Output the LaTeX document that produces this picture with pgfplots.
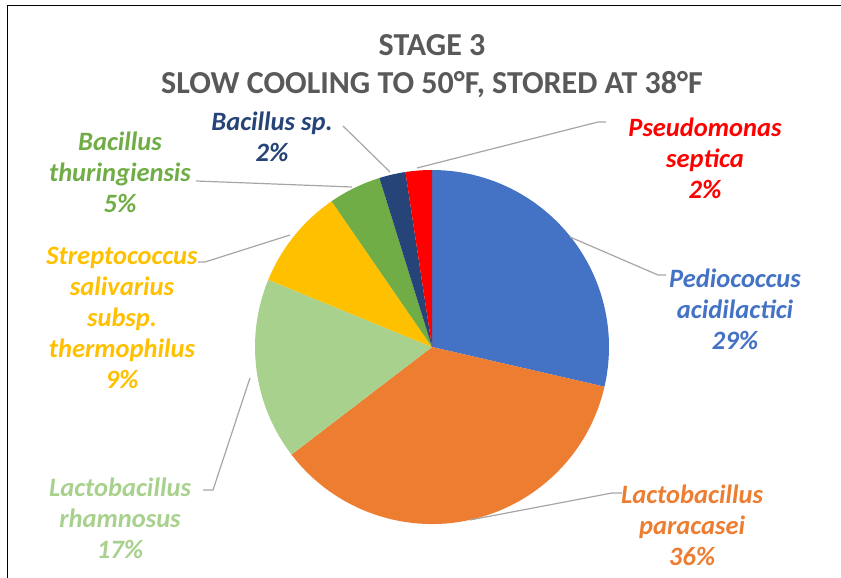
\documentclass[border=0pt]{standalone}
\usepackage{fontspec}
\setmainfont{Carlito}
\usepackage{pgfplots}
\pgfplotsset{compat=1.18}
\definecolor{cblue}{HTML}{4472C4}
\definecolor{corange}{HTML}{ED7D31}
\definecolor{clgreen}{HTML}{A9D18E}
\definecolor{cyellow}{HTML}{FFC000}
\definecolor{cgreen}{HTML}{70AD47}
\definecolor{cdblue}{HTML}{264478}
\definecolor{cred}{HTML}{FF0000}
\definecolor{ctitle}{HTML}{595959}
\definecolor{cleader}{HTML}{A6A6A6}
% values (percent), clockwise from 12 o'clock
\def\va{28.6}\def\vb{36.0}\def\vc{16.6}\def\vd{9.2}\def\ve{4.8}\def\vf{2.4}\def\vg{2.4}
\begin{document}
\begin{tikzpicture}
\useasboundingbox (0,0) rectangle (841pt,578pt);
\begin{axis}[at={(0,0)},anchor=south west,width=841pt,height=578pt,scale only axis,
  xmin=0,xmax=841,ymin=0,ymax=578,hide axis,clip=false]
\addplot[draw=none] coordinates {(432,231)};
\def\R{177pt}
\fill[cblue] (axis cs:432,231) -- ++(90:\R) arc[start angle=90,end angle={90-3.6*\va},radius=\R] -- cycle;
\fill[corange] (axis cs:432,231) -- ++({90-3.6*\va}:\R) arc[start angle={90-3.6*\va},end angle={90-3.6*(\va+\vb)},radius=\R] -- cycle;
\fill[clgreen] (axis cs:432,231) -- ++({90-3.6*(\va+\vb)}:\R) arc[start angle={90-3.6*(\va+\vb)},end angle={90-3.6*(\va+\vb+\vc)},radius=\R] -- cycle;
\fill[cyellow] (axis cs:432,231) -- ++({90-3.6*(\va+\vb+\vc)}:\R) arc[start angle={90-3.6*(\va+\vb+\vc)},end angle={90-3.6*(\va+\vb+\vc+\vd)},radius=\R] -- cycle;
\fill[cgreen] (axis cs:432,231) -- ++({90-3.6*(\va+\vb+\vc+\vd)}:\R) arc[start angle={90-3.6*(\va+\vb+\vc+\vd)},end angle={90-3.6*(\va+\vb+\vc+\vd+\ve)},radius=\R] -- cycle;
\fill[cdblue] (axis cs:432,231) -- ++({90-3.6*(\va+\vb+\vc+\vd+\ve)}:\R) arc[start angle={90-3.6*(\va+\vb+\vc+\vd+\ve)},end angle={90-3.6*(\va+\vb+\vc+\vd+\ve+\vf)},radius=\R] -- cycle;
\fill[cred] (axis cs:432,231) -- ++({90-3.6*(\va+\vb+\vc+\vd+\ve+\vf)}:\R) arc[start angle={90-3.6*(\va+\vb+\vc+\vd+\ve+\vf)},end angle={-270},radius=\R] -- cycle;
% leader lines
\draw[cleader,line width=1.2pt] (axis cs:417,410) -- (axis cs:598,456) -- (axis cs:606,456);
\draw[cleader,line width=1.2pt] (axis cs:570,341) -- (axis cs:658,303) -- (axis cs:666,303);
\draw[cleader,line width=1.2pt] (axis cs:470,58) -- (axis cs:612,85) -- (axis cs:622,85);
\draw[cleader,line width=1.2pt] (axis cs:250,200) -- (axis cs:213,88) -- (axis cs:203,88);
\draw[cleader,line width=1.2pt] (axis cs:290,343) -- (axis cs:205,316) -- (axis cs:198,316);
\draw[cleader,line width=1.2pt] (axis cs:352,391) -- (axis cs:196,397);
\draw[cleader,line width=1.2pt] (axis cs:390,406) -- (axis cs:343,452);
% labels
\tikzset{lab/.style={align=center,inner sep=0pt,font=\fontsize{26.5}{31}\selectfont\bfseries\itshape}}
\node[lab,text=cred] at (axis cs:705,{578-158}) {Pseudomonas\\septica\\2\%};
\node[lab,text=cblue] at (axis cs:735,{578-309}) {Pediococcus\\acidilactici\\29\%};
\node[lab,text=corange] at (axis cs:692,{578-525}) {Lactobacillus\\paracasei\\36\%};
\node[lab,text=clgreen] at (axis cs:120,{578-518}) {Lactobacillus\\rhamnosus\\17\%};
\node[lab,text=cyellow] at (axis cs:122,{578-318}) {Streptococcus\\salivarius\\subsp.\\thermophilus\\9\%};
\node[lab,text=cgreen] at (axis cs:120,{578-172}) {Bacillus\\thuringiensis\\5\%};
\node[lab,text=cdblue] at (axis cs:272,{578-137}) {Bacillus sp.\\2\%};
% title
\node[align=center,inner sep=0pt,text=ctitle,font=\fontsize{32}{38}\selectfont\bfseries] at (axis cs:432,{578-66}) {STAGE 3\\SLOW COOLING TO 50°F, STORED AT 38°F};
% frame
\draw[black,line width=1pt] (axis cs:7,0) -- (axis cs:7,572) -- (axis cs:841,572);
\end{axis}
\end{tikzpicture}
\end{document}
